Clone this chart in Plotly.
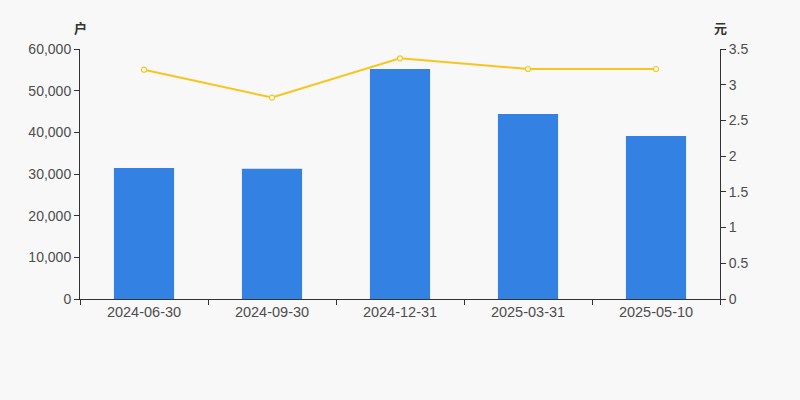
import plotly.graph_objects as go

dates = ["2024-06-30", "2024-09-30", "2024-12-31", "2025-03-31", "2025-05-10"]
holders = [31440, 31270, 55200, 44400, 39120]
price = [3.21, 2.82, 3.37, 3.22, 3.22]

left_ticks = [0, 10000, 20000, 30000, 40000, 50000, 60000]
right_ticks = [0, 0.5, 1, 1.5, 2, 2.5, 3, 3.5]

fig = go.Figure()
fig.add_trace(go.Bar(x=dates, y=holders, marker=dict(color="#3382e3", line=dict(width=0)),
                     width=0.47, yaxis="y"))
fig.add_trace(go.Scatter(x=dates, y=price, mode="lines+markers", yaxis="y2",
                         line=dict(color="#f7c51c", width=2),
                         marker=dict(symbol="circle", size=5, color="#ffffff",
                                     line=dict(color="#f7c51c", width=1.2))))

tick_font = dict(family="Liberation Sans, Arial, sans-serif", size=14, color="#4d4d4d")
date_font = dict(family="Liberation Sans, Arial, sans-serif", size=14.5, color="#4d4d4d")
fig.update_layout(
    width=800, height=400,
    margin=dict(l=80, r=80, t=49, b=101),
    paper_bgcolor="#f8f8f8", plot_bgcolor="#f8f8f8",
    showlegend=False, font=tick_font,
    xaxis=dict(type="category", showline=True, linecolor="#333", linewidth=1,
               ticks="outside", tickson="boundaries", ticklen=5, tickcolor="#333",
               showgrid=False, zeroline=False, tickfont=date_font),
    yaxis=dict(range=[0, 60000], tickvals=left_ticks, tickformat=",", showline=True,
               linecolor="#333", linewidth=1, ticks="outside", ticklen=5, tickcolor="#333",
               showgrid=False, zeroline=False, tickfont=tick_font),
    yaxis2=dict(range=[0, 3.5], tickvals=right_ticks, overlaying="y", side="right",
                showline=True, linecolor="#333", linewidth=1, ticks="outside", ticklen=5,
                tickcolor="#333", showgrid=False, zeroline=False, tickfont=tick_font),
)
unit_font = dict(size=13, color="#333", family="Noto Sans CJK SC")
fig.add_annotation(text="<b>户</b>", x=0.0, y=1.0, xref="paper", yref="paper", yshift=22,
                   showarrow=False, xanchor="center", yanchor="middle", font=unit_font)
fig.add_annotation(text="<b>元</b>", x=1.0, y=1.0, xref="paper", yref="paper", yshift=22,
                   showarrow=False, xanchor="center", yanchor="middle", font=unit_font)

fig.write_html("out.html", config={"displayModeBar": False},
               post_script="document.body.style.margin='0';document.body.style.background='#f8f8f8';")
